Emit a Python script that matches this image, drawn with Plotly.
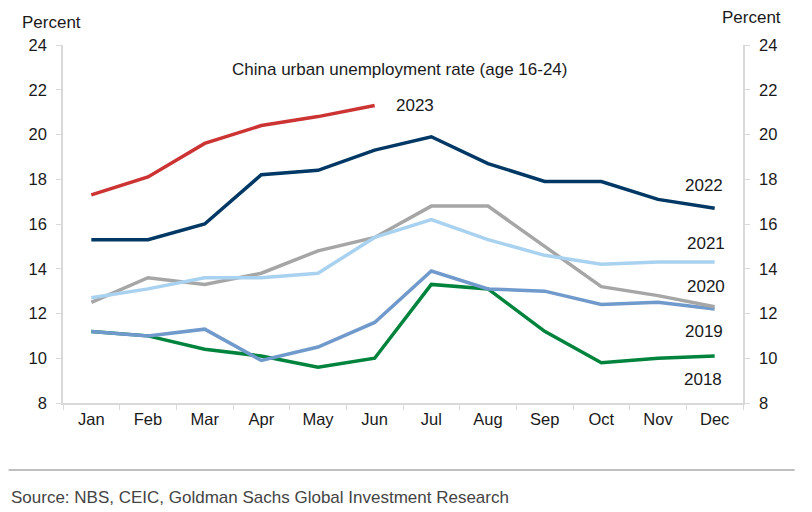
import plotly.graph_objects as go

months = ["Jan", "Feb", "Mar", "Apr", "May", "Jun", "Jul", "Aug", "Sep", "Oct", "Nov", "Dec"]
y2018 = [11.2, 11.0, 10.4, 10.1, 9.6, 10.0, 13.3, 13.1, 11.2, 9.8, 10.0, 10.1]
y2019 = [11.2, 11.0, 11.3, 9.9, 10.5, 11.6, 13.9, 13.1, 13.0, 12.4, 12.5, 12.2]
y2020 = [12.5, 13.6, 13.3, 13.8, 14.8, 15.4, 16.8, 16.8, 15.0, 13.2, 12.8, 12.3]
y2021 = [12.7, 13.1, 13.6, 13.6, 13.8, 15.4, 16.2, 15.3, 14.6, 14.2, 14.3, 14.3]
y2022 = [15.3, 15.3, 16.0, 18.2, 18.4, 19.3, 19.9, 18.7, 17.9, 17.9, 17.1, 16.7]
y2023 = [17.3, 18.1, 19.6, 20.4, 20.8, 21.3]

series = [
    ("2018", y2018, "#00843d"),
    ("2019", y2019, "#7099cc"),
    ("2020", y2020, "#a6a6a6"),
    ("2021", y2021, "#a8d2f0"),
    ("2022", y2022, "#003865"),
    ("2023", y2023, "#cc3333"),
]

fig = go.Figure()
for name, vals, col in series:
    fig.add_trace(go.Scatter(x=months[:len(vals)], y=vals, mode="lines", name=name,
                             line=dict(color=col, width=3.5), showlegend=False))
# invisible trace for right axis
fig.add_trace(go.Scatter(x=months, y=y2022, yaxis="y2", mode="lines",
                         line=dict(width=0), hoverinfo="skip", showlegend=False, opacity=0))

font_main = "Liberation Sans, Arial, sans-serif"
axcol = "#d9d9d9"
txtcol = "#1a1a1a"
tfont = dict(size=16.5, color=txtcol)

fig.update_layout(
    width=804, height=504,
    margin=dict(l=55, r=69, t=37, b=109),
    paper_bgcolor="white", plot_bgcolor="white",
    font=dict(family=font_main, size=17, color=txtcol),
    xaxis=dict(type="category", categoryorder="array", categoryarray=months,
               range=[-0.5, 11.5],
               showline=True, linecolor=axcol, linewidth=1.5, mirror=False,
               ticks="outside", tickson="boundaries", ticklen=5, tickcolor=axcol,
               showgrid=False, zeroline=False, tickfont=tfont),
    yaxis=dict(range=[8, 24], dtick=2, showline=True, linecolor=axcol, linewidth=1.5,
               ticks="outside", ticklen=5, tickcolor=axcol, showgrid=False, zeroline=False,
               tickfont=tfont, ticklabelstandoff=6),
    yaxis2=dict(range=[8, 24], dtick=2, overlaying="y", side="right", showline=True,
                linecolor=axcol, linewidth=1.5, ticks="outside", ticklen=5, tickcolor=axcol,
                showgrid=False, zeroline=False, tickfont=tfont, ticklabelstandoff=6),
)

annots = [
    dict(text="Percent", xref="paper", yref="paper", x=-0.063, y=1.064, xanchor="left", yanchor="middle"),
    dict(text="Percent", xref="paper", yref="paper", x=1.059, y=1.077, xanchor="right", yanchor="middle"),
    dict(text="China urban unemployment rate (age 16-24)", xref="paper", yref="y", x=0.495, y=22.9,
         xanchor="center", yanchor="middle"),
    dict(text="2023", xref="x", yref="y", x="Jun", y=21.3, xanchor="left", xshift=19, yanchor="middle"),
    dict(text="2022", xref="x", yref="y", x="Dec", y=17.7, xanchor="center", xshift=-11, yanchor="middle"),
    dict(text="2021", xref="x", yref="y", x="Dec", y=15.15, xanchor="center", xshift=-9, yanchor="middle"),
    dict(text="2020", xref="x", yref="y", x="Dec", y=13.2, xanchor="center", xshift=-9, yanchor="middle"),
    dict(text="2019", xref="x", yref="y", x="Dec", y=11.2, xanchor="center", xshift=-11, yanchor="middle"),
    dict(text="2018", xref="x", yref="y", x="Dec", y=9.05, xanchor="center", xshift=-12, yanchor="middle"),
    dict(text="Source: NBS, CEIC, Goldman Sachs Global Investment Research", xref="paper", yref="paper",
         x=-0.08, y=-0.263, xanchor="left", yanchor="middle",
         font=dict(family="Liberation Sans Narrow, Arial Narrow, Liberation Sans, sans-serif", size=17, color="#444444")),
]
for a in annots:
    a.setdefault("showarrow", False)
    a.setdefault("font", dict(size=17, color=txtcol))
fig.update_layout(annotations=annots)

fig.add_shape(type="line", xref="paper", yref="paper", x0=-0.08, x1=1.076, y0=-0.187, y1=-0.187,
              line=dict(color="#bfbfbf", width=2))

fig.write_html("out.html")
